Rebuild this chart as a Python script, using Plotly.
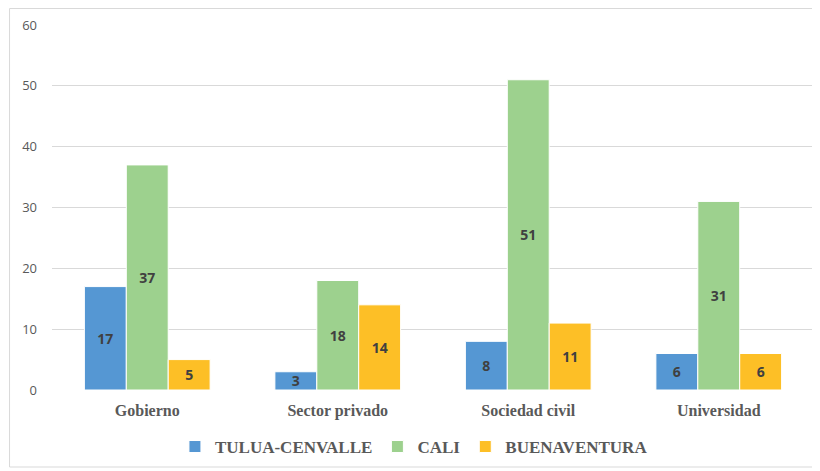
import plotly.graph_objects as go

categories = ["Gobierno", "Sector privado", "Sociedad civil", "Universidad"]
tulua = [17, 3, 8, 6]
cali = [37, 18, 51, 31]
buenaventura = [5, 14, 11, 6]

series = [
    ("TULUA-CENVALLE", tulua, "#5597D3"),
    ("CALI", cali, "#9DD18E"),
    ("BUENAVENTURA", buenaventura, "#FDBF26"),
]

fig = go.Figure()
for name, vals, color in series:
    fig.add_trace(go.Bar(
        x=categories, y=vals, name=name,
        marker=dict(color=color, line=dict(color="white", width=1)),
        text=vals, textposition="inside", insidetextanchor="middle",
        textangle=0, constraintext="none",
        textfont=dict(family="Open Sans", size=14, color="#404040", weight="bold"),
    ))

# page has an 8px body margin, so positions below are shifted by 8px
fig.update_layout(
    width=820, height=471,
    barmode="group", bargap=0.34, bargroupgap=0,
    plot_bgcolor="white", paper_bgcolor="white",
    margin=dict(l=43.5, r=13.5, t=17, b=89, autoexpand=False),
    showlegend=True,
    legend=dict(
        orientation="h", x=0.475, xanchor="center",
        yref="container", y=0.068, yanchor="middle",
        font=dict(family="Liberation Serif", size=17, color="#595959", weight="bold"),
        traceorder="normal",
    ),
    xaxis=dict(
        showline=False, ticks="", ticklabelstandoff=9,
        tickfont=dict(family="Liberation Serif", size=16, color="#595959", weight="bold"),
    ),
    yaxis=dict(
        range=[0, 60], dtick=10, showgrid=True, gridcolor="#D9D9D9",
        zeroline=False, showline=False, ticks="", ticklabelstandoff=14,
        tickfont=dict(family="Open Sans", size=13, color="#595959"),
    ),
    shapes=[dict(
        type="rect", xref="paper", yref="paper",
        x0=-42.5 / 763, x1=1 + 20 / 763, y0=-77 / 365, y1=1 + 16.5 / 365,
        line=dict(color="#D9D9D9", width=1), fillcolor="rgba(0,0,0,0)", layer="below",
    )],
)

fig.write_html("out.html")
